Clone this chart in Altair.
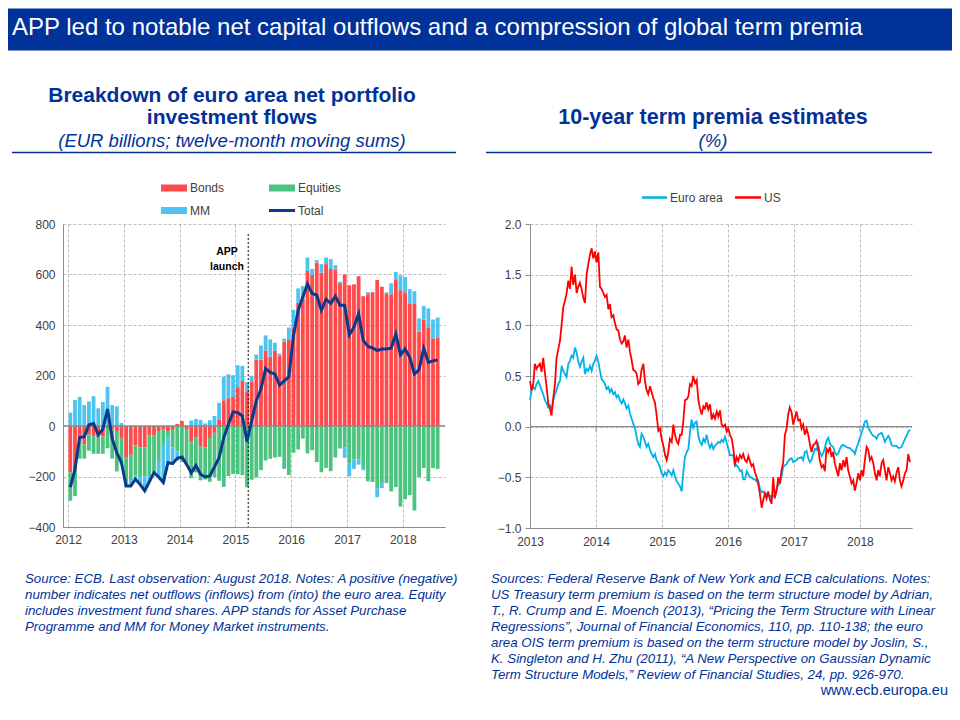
import altair as alt
import pandas as pd

FONT = "Liberation Sans"
ECB_BLUE = "#003299"
NAVY = "#0A3A8C"
GRID = "#BDBDBD"
AXIS_GREY = "#8C8C8C"
LABEL = "#404040"

# ---------------- Left chart data: monthly, Jan 2012 - Aug 2018 (EUR bn) ----------------
bonds = [-183, -172, -44, -73, -33, -40, -44, -42, -8, -14, -20, -50,
         -123, -114, -76, -84, -84, -38, -38, -20, -15, -20, -15, 8,
         20, -15, -62, -44, -80, -85, -48, -27, 26, 102, 110, 115,
         154, 178, 135, 177, 263, 263, 299, 275, 299, 279, 334, 343,
         390, 488, 504, 614, 598, 648, 607, 641, 622, 618, 566, 600,
         557, 561, 593, 514, 522, 530, 578, 551, 525, 522, 578, 538,
         530, 486, 486, 374, 422, 391, 347, 351]
equities = [-113, -105, -85, -56, -65, -70, -66, -68, -80, -115, -160, -100,
            -104, -100, -120, -120, -115, -160, -147, -122, -60, -25, -70, -100,
            -143, -137, -145, -140, -135, -127, -173, -175, -217, -241, -198, -190,
            -191, -195, -242, -213, -204, -175, -137, -130, -125, -122, -170, -194,
            -106, -93, -50, -109, -96, -143, -183, -166, -179, -125, -89, -86,
            -146, -133, -133, -166, -219, -222, -246, -226, -226, -259, -242, -319,
            -290, -274, -335, -203, -167, -219, -167, -170]
mm = [53, 103, 115, 83, 97, 118, 70, 95, 155, 83, 78, 12,
      -8, -24, -15, -27, -58, -22, 0, -60, -149, -100, -64, -37,
      0, 0, 22, 28, 24, 10, 23, 40, 66, 93, 95, 86,
      86, 60, 39, 22, 20, 56, 60, 68, 31, 8, 12, 47,
      70, 57, 50, 53, 24, 9, 34, 26, 39, 19, 5, -40,
      -53, -37, -20, -9, 8, 0, -36, -20, 5, 43, 32, 59,
      60, 56, 48, 52, 53, 75, 75, 79]
total = [-242, -172, -46, -42, 5, 10, -35, -12, 67, -50, -106, -145,
         -238, -238, -211, -231, -257, -220, -185, -202, -224, -145, -149, -128,
         -123, -152, -185, -156, -191, -202, -198, -162, -125, -46, 7, 56,
         53, 40, -62, 20, 100, 146, 228, 212, 206, 162, 179, 195,
         359, 458, 511, 562, 525, 518, 458, 502, 485, 514, 478, 478,
         361, 392, 445, 339, 315, 309, 299, 305, 305, 308, 365, 282,
         305, 272, 206, 223, 308, 252, 258, 262]
components = ["Bonds", "Equities", "MM"]
component_colors = ["#FF4B4B", "#4CC47F", "#4DC4F0"]
left_years = [2012, 2013, 2014, 2015, 2016, 2017, 2018]
left_yticks = [-400, -200, 0, 200, 400, 600, 800]
app_launch = 2015.23

# ---------------- Right chart data: 10-year term premia (%), Jan 2013 - Oct 2018 ----------------
us = [0.45, 0.36, 0.42, 0.62, 0.57, 0.60, 0.62, 0.54, 0.68, 0.52,
      0.39, 0.23, 0.18, 0.11, 0.29, 0.42, 0.68, 0.76, 0.85, 1.01,
      1.18, 1.24, 1.31, 1.44, 1.36, 1.58, 1.40, 1.50, 1.32, 1.38,
      1.42, 1.36, 1.27, 1.22, 1.50, 1.60, 1.70, 1.76, 1.66, 1.73,
      1.62, 1.72, 1.38, 1.36, 1.32, 1.28, 1.30, 1.16, 1.21, 1.08,
      1.10, 1.02, 0.96, 0.95, 0.86, 0.82, 0.84, 0.90, 0.78, 0.86,
      0.74, 0.66, 0.56, 0.55, 0.52, 0.42, 0.44, 0.56, 0.62, 0.45,
      0.36, 0.32, 0.40, 0.34, 0.28, 0.24, 0.12, -0.04, -0.02, -0.12,
      -0.18, -0.28, -0.33, -0.25, -0.12, -0.15, 0.02, -0.08, -0.14, -0.17,
      -0.08, -0.08, 0.05, 0.26, 0.27, 0.30, 0.42, 0.40, 0.50, 0.43,
      0.46, 0.27, 0.18, 0.12, 0.20, 0.18, 0.24, 0.17, 0.22, 0.07,
      0.12, 0.08, 0.15, 0.10, 0.16, 0.02, 0.00, 0.02, -0.05, -0.02,
      -0.08, -0.12, -0.22, -0.38, -0.30, -0.34, -0.28, -0.31, -0.27, -0.33,
      -0.35, -0.29, -0.34, -0.39, -0.37, -0.45, -0.50, -0.57, -0.66, -0.80,
      -0.72, -0.66, -0.71, -0.64, -0.72, -0.76, -0.50, -0.70, -0.63, -0.50,
      -0.56, -0.43, -0.36, -0.08, -0.02, 0.12, 0.19, 0.14, 0.02, 0.08,
      0.15, 0.06, 0.07, -0.02, 0.02, -0.08, -0.02, -0.08, -0.17, -0.25,
      -0.18, -0.17, -0.14, -0.22, -0.33, -0.40, -0.38, -0.44, -0.22, -0.25,
      -0.20, -0.30, -0.25, -0.36, -0.43, -0.49, -0.36, -0.43, -0.33, -0.40,
      -0.30, -0.43, -0.49, -0.56, -0.53, -0.63, -0.56, -0.46, -0.53, -0.43,
      -0.49, -0.33, -0.20, -0.23, -0.33, -0.30, -0.36, -0.46, -0.53, -0.43,
      -0.49, -0.36, -0.33, -0.43, -0.53, -0.40, -0.46, -0.53, -0.49, -0.54,
      -0.45, -0.40, -0.53, -0.59, -0.53, -0.46, -0.43, -0.27, -0.35]
euro = [0.26, 0.36, 0.39, 0.37, 0.42, 0.45, 0.41, 0.36, 0.32, 0.26,
        0.23, 0.19, 0.21, 0.16, 0.26, 0.32, 0.36, 0.42, 0.45, 0.60,
        0.55, 0.52, 0.49, 0.62, 0.65, 0.70, 0.68, 0.78, 0.73, 0.64,
        0.59, 0.64, 0.68, 0.52, 0.57, 0.55, 0.60, 0.55, 0.62, 0.65,
        0.70, 0.64, 0.55, 0.47, 0.45, 0.42, 0.37, 0.39, 0.34, 0.37,
        0.32, 0.34, 0.29, 0.31, 0.26, 0.23, 0.27, 0.23, 0.18, 0.21,
        0.13, 0.08, 0.03, -0.02, -0.10, -0.17, -0.20, -0.07, -0.10, -0.15,
        -0.20, -0.17, -0.23, -0.27, -0.30, -0.27, -0.33, -0.36, -0.40, -0.46,
        -0.49, -0.45, -0.48, -0.43, -0.45, -0.48, -0.43, -0.49, -0.54, -0.56,
        -0.59, -0.64, -0.45, -0.30, -0.25, -0.22, -0.05, 0.07, -0.01, 0.04,
        0.05, -0.09, -0.15, -0.18, -0.12, -0.15, -0.08, -0.16, -0.21, -0.17,
        -0.22, -0.19, -0.17, -0.15, -0.16, -0.13, -0.15, -0.10, -0.16, -0.22,
        -0.28, -0.28, -0.28, -0.39, -0.38, -0.40, -0.44, -0.43, -0.52, -0.52,
        -0.44, -0.47, -0.50, -0.50, -0.52, -0.52, -0.54, -0.53, -0.61, -0.65,
        -0.64, -0.66, -0.66, -0.68, -0.68, -0.70, -0.68, -0.70, -0.61, -0.58,
        -0.56, -0.49, -0.40, -0.38, -0.37, -0.34, -0.32, -0.31, -0.35, -0.34,
        -0.33, -0.31, -0.31, -0.30, -0.33, -0.25, -0.24, -0.31, -0.35, -0.33,
        -0.27, -0.22, -0.23, -0.18, -0.25, -0.29, -0.26, -0.21, -0.14, -0.11,
        -0.17, -0.19, -0.20, -0.25, -0.28, -0.27, -0.22, -0.19, -0.18, -0.19,
        -0.20, -0.21, -0.21, -0.23, -0.24, -0.27, -0.21, -0.16, -0.11, -0.06,
        -0.01, 0.05, 0.06, -0.01, -0.04, -0.07, -0.09, -0.10, -0.12, -0.08,
        -0.07, -0.06, -0.10, -0.15, -0.12, -0.09, -0.12, -0.18, -0.19, -0.19,
        -0.19, -0.21, -0.21, -0.20, -0.16, -0.12, -0.09, -0.05, -0.03]
series_names = ["Euro area", "US"]
series_colors = ["#00B1EA", "#FF0000"]
right_years = [2013, 2014, 2015, 2016, 2017, 2018]
right_yticks = [-1.0, -0.5, 0.0, 0.5, 1.0, 1.5, 2.0]

# ---------------- Texts ----------------
main_title = "APP led to notable net capital outflows and a compression of global term premia"
left_title = ["Breakdown of euro area net portfolio", "investment flows"]
left_sub = "(EUR billions; twelve-month moving sums)"
right_title = "10-year term premia estimates"
right_sub = "(%)"
left_notes = [
    "Source: ECB. Last observation: August 2018. Notes: A positive (negative)",
    "number indicates net outflows (inflows) from (into) the euro area. Equity",
    "includes investment fund shares. APP stands for Asset Purchase",
    "Programme and MM for Money Market instruments.",
]
right_notes = [
    "Sources: Federal Reserve Bank of New York and ECB calculations. Notes:",
    "US Treasury term premium is based on the term structure model by Adrian,",
    "T., R. Crump and E. Moench (2013), \u201cPricing the Term Structure with Linear",
    "Regressions\u201d, Journal of Financial Economics, 110, pp. 110-138; the euro",
    "area OIS term premium is based on the term structure model by Joslin, S.,",
    "K. Singleton and H. Zhu (2011), \u201cA New Perspective on Gaussian Dynamic",
    "Term Structure Models,\u201d Review of Financial Studies, 24, pp. 926-970.",
]
site = "www.ecb.europa.eu"

# ---------------- Tables ----------------
months = pd.date_range("2012-01-01", periods=len(bonds), freq="MS")
t_month = [d.year + (d.month - 0.5) / 12 for d in months]
flows = pd.DataFrame({"t": t_month, "Bonds": bonds, "Equities": equities, "MM": mm, "Total": total})
stack_df = flows.melt(id_vars="t", value_vars=components, var_name="Component", value_name="v")
stack_df["ord"] = stack_df["Component"].map({c: i for i, c in enumerate(components)})

days = pd.date_range("2013-01-01", "2018-10-05", periods=len(us))
t_day = [d.year + (d.dayofyear - 1) / (366 if d.is_leap_year else 365) for d in days]
tp = pd.DataFrame({"t": t_day, "Euro area": euro, "US": us})
tp_long = tp.melt(id_vars="t", value_vars=series_names, var_name="Series", value_name="v")

year_ticks = pd.DataFrame({"t": right_years[1:], "a": [0.0] * 5, "b": [-0.045] * 5})

one = pd.DataFrame({"k": [0]})

W = 382
HL = 303
HR = 304


def txt(s, x, y, size, weight="normal", style="normal", align="left", color=ECB_BLUE):
    return alt.Chart(one).mark_text(
        text=s, fontSize=size, fontWeight=weight, fontStyle=style, align=align,
        baseline="middle", color=color, font=FONT
    ).encode(x=alt.value(x), y=alt.value(y))


def hline(x1, x2, y, color, width):
    return alt.Chart(one).mark_rule(color=color, strokeWidth=width).encode(
        x=alt.value(x1), x2=alt.value(x2), y=alt.value(y))


def box(x1, x2, y1, y2, color):
    return alt.Chart(one).mark_rect(color=color).encode(
        x=alt.value(x1), x2=alt.value(x2), y=alt.value(y1), y2=alt.value(y2))


# ---------------- Left panel ----------------
xL_scale = alt.Scale(domain=[2012, 2018.667], nice=False, zero=False)
yL_scale = alt.Scale(domain=[-400, 800], nice=False)
xL_axis = alt.Axis(values=left_years, format="d", grid=True, ticks=False, labelPadding=7,
                   labelFlush=False, domain=True, title=None, orient="bottom")
yL_axis = alt.Axis(values=left_yticks, format="d", grid=True, ticks=False, labelPadding=8,
                   labelFlush=False, domain=True, title=None, orient="left")

bars = alt.Chart(stack_df).mark_bar(size=3.8).encode(
    x=alt.X("t:Q", scale=xL_scale, axis=xL_axis),
    y=alt.Y("v:Q", stack="zero", scale=yL_scale, axis=yL_axis),
    color=alt.Color("Component:N", scale=alt.Scale(domain=components, range=component_colors), legend=None),
    order=alt.Order("ord:Q"),
)
zero_l = alt.Chart(pd.DataFrame({"z": [0]})).mark_rule(color="#8C8C8C", strokeWidth=1.5).encode(
    y=alt.Y("z:Q", scale=yL_scale, axis=yL_axis))
app_df = pd.DataFrame({"t": [app_launch], "top": [760], "bottom": [-400]})
app_rule = alt.Chart(app_df).mark_rule(color="black", strokeDash=[2, 2], strokeWidth=1).encode(
    x=alt.X("t:Q", scale=xL_scale, axis=xL_axis),
    y=alt.Y("top:Q", scale=yL_scale, axis=yL_axis), y2="bottom:Q")
app_lbl_df = pd.DataFrame({"t": [2014.85, 2014.85], "val": [690, 630], "s": ["APP", "launch"]})
app_text = alt.Chart(app_lbl_df).mark_text(fontSize=10.5, fontWeight="bold", color="black", font=FONT).encode(
    x=alt.X("t:Q", scale=xL_scale, axis=xL_axis),
    y=alt.Y("val:Q", scale=yL_scale, axis=yL_axis), text="s:N")
total_line = alt.Chart(flows).mark_line(color=NAVY, strokeWidth=3).encode(
    x=alt.X("t:Q", scale=xL_scale, axis=xL_axis),
    y=alt.Y("Total:Q", scale=yL_scale, axis=yL_axis))

left_layers = [
    bars, zero_l, app_rule, total_line, app_text,
    box(-55, 889, -215.5, -173.5, ECB_BLUE),
    txt(main_title, -51, -196.5, 24, color="white"),
    txt(left_title[0], 169, -128.5, 21, weight="bold", align="center"),
    txt(left_title[1], 169, -106.5, 21, weight="bold", align="center"),
    txt(left_sub, 169, -83.5, 18.5, style="italic", align="center"),
    hline(-51, 393, -71.5, ECB_BLUE, 1.5),
    # legend
    box(98, 124, -39.5, -32.5, component_colors[0]),
    txt("Bonds", 127, -36, 12, color=LABEL),
    box(206, 232, -39.5, -32.5, component_colors[1]),
    txt("Equities", 235, -36, 12, color=LABEL),
    box(98, 124, -17, -10, component_colors[2]),
    txt("MM", 127, -13.5, 12, color=LABEL),
    hline(206, 232, -13.5, NAVY, 3),
    txt("Total", 235, -13.5, 12, color=LABEL),
]
for i, line in enumerate(left_notes):
    left_layers.append(txt(line, -38, 354.5 + 16 * i, 13.3, style="italic"))

left = alt.layer(*left_layers).properties(width=W, height=HL)

# ---------------- Right panel ----------------
xR_scale = alt.Scale(domain=[2013, 2018.789], nice=False, zero=False)
yR_scale = alt.Scale(domain=[-1, 2], nice=False)
xR_axis = alt.Axis(values=right_years, format="d", grid=True, ticks=False, labelPadding=8,
                   labelFlush=False, domain=True, title=None, orient="bottom")
yR_axis = alt.Axis(values=right_yticks, format=".1f", grid=True, ticks=True, tickSize=5,
                   labelPadding=4, labelFlush=False, domain=True, title=None, orient="left")

zero_r = alt.Chart(pd.DataFrame({"z": [0]})).mark_rule(color="#8C8C8C", strokeWidth=1.2).encode(
    y=alt.Y("z:Q", scale=yR_scale, axis=yR_axis))
zero_ticks = alt.Chart(year_ticks).mark_rule(color="#8C8C8C", strokeWidth=1).encode(
    x=alt.X("t:Q", scale=xR_scale, axis=xR_axis),
    y=alt.Y("a:Q", scale=yR_scale, axis=yR_axis), y2="b:Q")
lines = alt.Chart(tp_long).mark_line(strokeWidth=1.8).encode(
    x=alt.X("t:Q", scale=xR_scale, axis=xR_axis),
    y=alt.Y("v:Q", scale=yR_scale, axis=yR_axis),
    color=alt.Color("Series:N", scale=alt.Scale(domain=series_names, range=series_colors), legend=None),
)

right_layers = [
    zero_r, zero_ticks, lines,
    txt(right_title, 183, -106.5, 21.5, weight="bold", align="center"),
    txt(right_sub, 183, -83.5, 18.5, style="italic", align="center"),
    hline(-44, 402, -71.5, ECB_BLUE, 1.5),
    hline(112, 137, -26.5, series_colors[0], 2.5),
    txt("Euro area", 140, -26.5, 12, color=LABEL),
    hline(205, 231, -26.5, series_colors[1], 2.5),
    txt("US", 234, -26.5, 12, color=LABEL),
    txt(site, 418, 466.5, 14.5, align="right"),
]
for i, line in enumerate(right_notes):
    right_layers.append(txt(line, -39, 354.5 + 16 * i, 13.3, style="italic"))

right = alt.layer(*right_layers).properties(width=W, height=HR)

chart = alt.hconcat(left, right, spacing=85, bounds="flush").resolve_scale(
    color="independent"
).properties(
    padding=0, background="white"
).configure_view(stroke=None).configure_axis(
    labelFont=FONT, labelFontSize=12, labelColor=LABEL,
    gridDash=[3, 2], gridColor=GRID, gridWidth=1,
    domainColor=AXIS_GREY, tickColor=AXIS_GREY,
)

chart.save("out.html", embed_options={"renderer": "svg", "actions": False})
